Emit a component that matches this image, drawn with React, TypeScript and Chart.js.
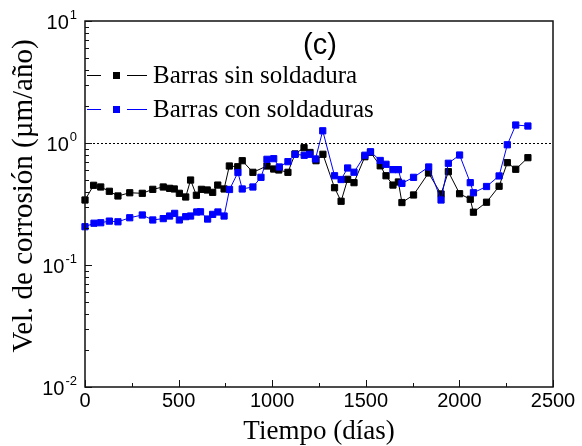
import { useEffect, useRef } from 'react';
import { Chart, registerables } from 'chart.js';
Chart.register(...registerables);

const blackDays = [0, 46, 84, 130, 176, 239, 306, 362, 418, 452, 477, 504, 538, 564, 595, 622, 653, 682, 709, 743, 771, 816, 840, 897, 972, 1008, 1035, 1084, 1122, 1170, 1202, 1234, 1271, 1333, 1368, 1403, 1437, 1495, 1525, 1577, 1608, 1645, 1674, 1693, 1755, 1835, 1902, 1941, 2001, 2058, 2075, 2145, 2212, 2256, 2301, 2366];
const blackRate = [0.341, 0.450, 0.436, 0.402, 0.368, 0.391, 0.387, 0.417, 0.436, 0.425, 0.420, 0.387, 0.361, 0.497, 0.373, 0.417, 0.412, 0.394, 0.452, 0.420, 0.648, 0.639, 0.716, 0.575, 0.648, 0.612, 0.601, 0.575, 0.813, 0.915, 0.836, 0.716, 0.808, 0.430, 0.333, 0.504, 0.473, 0.772, 0.839, 0.650, 0.539, 0.452, 0.479, 0.325, 0.375, 0.568, 0.382, 0.582, 0.384, 0.346, 0.271, 0.327, 0.442, 0.690, 0.609, 0.758];
const blueDays = [0, 48, 84, 130, 176, 239, 306, 362, 418, 452, 479, 504, 538, 564, 597, 617, 655, 682, 710, 743, 772, 817, 840, 897, 940, 972, 1008, 1038, 1084, 1122, 1171, 1200, 1231, 1270, 1333, 1368, 1403, 1437, 1495, 1525, 1577, 1608, 1645, 1674, 1693, 1755, 1836, 1902, 1941, 2001, 2058, 2075, 2145, 2212, 2256, 2301, 2366];
const blueRate = [0.206, 0.220, 0.222, 0.229, 0.226, 0.244, 0.257, 0.234, 0.240, 0.252, 0.265, 0.234, 0.249, 0.252, 0.272, 0.273, 0.238, 0.260, 0.272, 0.252, 0.416, 0.573, 0.420, 0.436, 0.523, 0.735, 0.744, 0.636, 0.703, 0.808, 0.793, 0.808, 0.740, 1.259, 0.539, 0.502, 0.624, 0.576, 0.794, 0.847, 0.719, 0.669, 0.605, 0.605, 0.467, 0.523, 0.636, 0.341, 0.682, 0.797, 0.473, 0.391, 0.440, 0.537, 0.967, 1.404, 1.378];

const seriesNames = ['Barras sin soldadura', 'Barras con soldaduras'];
const seriesColors = ['#000000', '#0000ff'];
const xMajorTicks = [0, 500, 1000, 1500, 2000, 2500];
const xMinorTicks = [250, 750, 1250, 1750, 2250];
const yTickExponents = [-2, -1, 0, 1];
const referenceRate = 1;
const panelLabel = '(c)';
const xTitle = 'Tiempo (días)';
const yTitle = 'Vel. de corrosión (µm/año)';

const SERIF = '"Liberation Serif", "Times New Roman", serif';
const SANS = '"Liberation Sans", Arial, sans-serif';

const decorPlugin = {
  id: 'decor',
  beforeDatasetsDraw(chart: any) {
    const { ctx, chartArea: a, scales } = chart;
    const ys = scales.y;
    ctx.save();
    const yr = Math.round(ys.getPixelForValue(referenceRate)) + 0.5;
    ctx.strokeStyle = '#000';
    ctx.lineWidth = 1;
    ctx.setLineDash([2, 2]);
    ctx.beginPath();
    ctx.moveTo(a.left, yr);
    ctx.lineTo(a.right, yr);
    ctx.stroke();
    ctx.setLineDash([]);
    ctx.restore();
  },
  afterDraw(chart: any) {
    const { ctx, chartArea: a, scales } = chart;
    const xs = scales.x;
    const ys = scales.y;
    ctx.save();
    // frame
    ctx.strokeStyle = '#111';
    ctx.lineWidth = 1.5;
    ctx.strokeRect(a.left, a.top, a.right - a.left, a.bottom - a.top);
    // x ticks (inward)
    ctx.lineWidth = 1;
    ctx.beginPath();
    xMajorTicks.forEach((v) => {
      const px = Math.round(xs.getPixelForValue(v)) + 0.5;
      ctx.moveTo(px, a.bottom);
      ctx.lineTo(px, a.bottom - 7);
    });
    xMinorTicks.forEach((v) => {
      const px = Math.round(xs.getPixelForValue(v)) + 0.5;
      ctx.moveTo(px, a.bottom);
      ctx.lineTo(px, a.bottom - 4);
    });
    // y ticks
    for (let e = yTickExponents[0]; e <= yTickExponents[yTickExponents.length - 1]; e++) {
      const major = Math.pow(10, e);
      const py = Math.round(ys.getPixelForValue(major)) + 0.5;
      ctx.moveTo(a.left, py);
      ctx.lineTo(a.left + 7, py);
      if (e < yTickExponents[yTickExponents.length - 1]) {
        for (let k = 2; k <= 9; k++) {
          const pm = Math.round(ys.getPixelForValue(k * major)) + 0.5;
          ctx.moveTo(a.left, pm);
          ctx.lineTo(a.left + 4, pm);
        }
      }
    }
    ctx.stroke();

    // y tick labels with superscripts
    ctx.fillStyle = '#000';
    ctx.textBaseline = 'middle';
    yTickExponents.forEach((e) => {
      const py = ys.getPixelForValue(Math.pow(10, e));
      const expText = e < 0 ? '-' + Math.abs(e) : String(e);
      ctx.font = '13px ' + SANS;
      const ew = ctx.measureText(expText).width;
      const right = a.left - 8;
      ctx.textAlign = 'right';
      ctx.fillText(expText, right, py - 6);
      ctx.font = '20px ' + SANS;
      ctx.fillText('10', right - ew - 1, py + 2);
    });

    // panel label
    ctx.textAlign = 'center';
    ctx.textBaseline = 'alphabetic';
    ctx.font = '29px ' + SANS;
    ctx.fillText(panelLabel, 320, 54);

    // legend
    const rows = [75, 109];
    rows.forEach((ry, i) => {
      ctx.strokeStyle = seriesColors[i];
      ctx.fillStyle = seriesColors[i];
      ctx.lineWidth = 1;
      ctx.beginPath();
      ctx.moveTo(87, ry + 0.5);
      ctx.lineTo(101, ry + 0.5);
      ctx.moveTo(127, ry + 0.5);
      ctx.lineTo(147, ry + 0.5);
      ctx.stroke();
      ctx.fillRect(113, ry - 3, 7, 7);
      ctx.fillStyle = '#000';
      ctx.font = '25px ' + SERIF;
      ctx.textAlign = 'left';
      ctx.fillText(seriesNames[i], 153, ry + 8);
    });

    // axis titles
    ctx.fillStyle = '#000';
    ctx.textAlign = 'center';
    ctx.font = '27px ' + SERIF;
    ctx.fillText(xTitle, (a.left + a.right) / 2, 439);
    ctx.save();
    ctx.translate(32, 196);
    ctx.rotate(-Math.PI / 2);
    ctx.font = '29px ' + SERIF;
    ctx.fillText(yTitle, 0, 0);
    ctx.restore();
    ctx.restore();
  },
};

export default function App() {
  const ref = useRef<HTMLCanvasElement | null>(null);
  useEffect(() => {
    document.body.style.margin = '0';
    const canvas = ref.current;
    if (!canvas) return;
    const mk = (days: number[], rate: number[]) => days.map((d, i) => ({ x: d, y: rate[i] }));
    const chart = new Chart(canvas, {
      type: 'line',
      data: {
        datasets: [
          {
            label: seriesNames[1],
            data: mk(blueDays, blueRate),
            borderColor: seriesColors[1],
            backgroundColor: seriesColors[1],
            borderWidth: 1,
            pointStyle: 'rect',
            pointRadius: 4.4,
            pointBorderWidth: 1,
            tension: 0,
            clip: false as any,
            order: 0,
          },
          {
            label: seriesNames[0],
            data: mk(blackDays, blackRate),
            borderColor: seriesColors[0],
            backgroundColor: seriesColors[0],
            borderWidth: 1,
            pointStyle: 'rect',
            pointRadius: 4.4,
            pointBorderWidth: 1,
            tension: 0,
            clip: false as any,
            order: 1,
          },
        ],
      },
      options: {
        responsive: false,
        animation: false,
        events: [],
        layout: { padding: { top: 21, right: 29, left: 0, bottom: 0 } },
        plugins: { legend: { display: false }, tooltip: { enabled: false } },
        scales: {
          x: {
            type: 'linear',
            min: 0,
            max: 2500,
            afterBuildTicks: (s: any) => {
              s.ticks = xMajorTicks.map((v) => ({ value: v }));
            },
            ticks: {
              color: '#000',
              font: { family: SANS, size: 20 },
              padding: 2,
              maxRotation: 0,
              autoSkip: false,
              callback: (v: any) => String(v),
            },
            grid: { display: false, drawTicks: false },
            border: { display: false },
            afterFit: (s: any) => {
              s.height = 59;
            },
          },
          y: {
            type: 'logarithmic',
            min: 0.01,
            max: 10,
            ticks: { display: false },
            grid: { display: false, drawTicks: false },
            border: { display: false },
            afterFit: (s: any) => {
              s.width = 85;
            },
          },
        },
      },
      plugins: [decorPlugin],
    });
    return () => chart.destroy();
  }, []);
  return (
    <div style={{ width: 582, height: 446 }}>
      <canvas ref={ref} width={582} height={446} style={{ width: 582, height: 446 }} />
    </div>
  );
}
